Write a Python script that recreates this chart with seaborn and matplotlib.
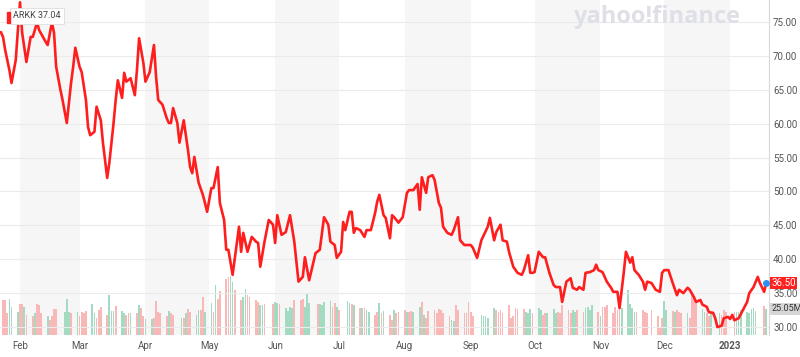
import matplotlib
matplotlib.use("Agg")
import matplotlib.pyplot as plt
from matplotlib.patches import Rectangle
import seaborn as sns
import pandas as pd

# ARKK daily close
price_dates = [
    "2022-01-23", "2022-01-24", "2022-01-25", "2022-01-27", "2022-01-28", "2022-01-30", "2022-01-31",
    "2022-02-01", "2022-02-02", "2022-02-04", "2022-02-06", "2022-02-07", "2022-02-09", "2022-02-10",
    "2022-02-13", "2022-02-14", "2022-02-16", "2022-02-17", "2022-02-18", "2022-02-20", "2022-02-21",
    "2022-02-23", "2022-02-25", "2022-02-26", "2022-02-27",
    "2022-03-01", "2022-03-02", "2022-03-04", "2022-03-05", "2022-03-06", "2022-03-08", "2022-03-09",
    "2022-03-11", "2022-03-12", "2022-03-14", "2022-03-15", "2022-03-17", "2022-03-18", "2022-03-19",
    "2022-03-21", "2022-03-22", "2022-03-23", "2022-03-25", "2022-03-27", "2022-03-28", "2022-03-29",
    "2022-03-31",
    "2022-04-01", "2022-04-03", "2022-04-05", "2022-04-06", "2022-04-07", "2022-04-09", "2022-04-11",
    "2022-04-12", "2022-04-13", "2022-04-14", "2022-04-16", "2022-04-17", "2022-04-19", "2022-04-21",
    "2022-04-22", "2022-04-23", "2022-04-24", "2022-04-26", "2022-04-28", "2022-04-29", "2022-04-30",
    "2022-05-02", "2022-05-03", "2022-05-05", "2022-05-06", "2022-05-08", "2022-05-09", "2022-05-10",
    "2022-05-12", "2022-05-15", "2022-05-16", "2022-05-17", "2022-05-19", "2022-05-21", "2022-05-23",
    "2022-05-24", "2022-05-25", "2022-05-27", "2022-05-29", "2022-05-31",
    "2022-06-01", "2022-06-02", "2022-06-04", "2022-06-06", "2022-06-08", "2022-06-10", "2022-06-12",
    "2022-06-14", "2022-06-15", "2022-06-17", "2022-06-19", "2022-06-20", "2022-06-22", "2022-06-24",
    "2022-06-26", "2022-06-27", "2022-06-29", "2022-06-30",
    "2022-07-02", "2022-07-03", "2022-07-04", "2022-07-06", "2022-07-07", "2022-07-08", "2022-07-09",
    "2022-07-11", "2022-07-13", "2022-07-14", "2022-07-16", "2022-07-18", "2022-07-19", "2022-07-20",
    "2022-07-22", "2022-07-23", "2022-07-25", "2022-07-26", "2022-07-27", "2022-07-29", "2022-07-31",
    "2022-08-02", "2022-08-03", "2022-08-05", "2022-08-07", "2022-08-08", "2022-08-09", "2022-08-11",
    "2022-08-12", "2022-08-14", "2022-08-15", "2022-08-17", "2022-08-18", "2022-08-19", "2022-08-21",
    "2022-08-23", "2022-08-24", "2022-08-26", "2022-08-27", "2022-08-29",
    "2022-09-01", "2022-09-02", "2022-09-04", "2022-09-06", "2022-09-09", "2022-09-10", "2022-09-12",
    "2022-09-13", "2022-09-15", "2022-09-16", "2022-09-18", "2022-09-19", "2022-09-21", "2022-09-23",
    "2022-09-25", "2022-09-26", "2022-09-28", "2022-09-29", "2022-09-30",
    "2022-10-01", "2022-10-03", "2022-10-05", "2022-10-06", "2022-10-08", "2022-10-10", "2022-10-11",
    "2022-10-13", "2022-10-14", "2022-10-16", "2022-10-18", "2022-10-19", "2022-10-21", "2022-10-22",
    "2022-10-24", "2022-10-25", "2022-10-27", "2022-10-29", "2022-10-30", "2022-10-31",
    "2022-11-02", "2022-11-04", "2022-11-06", "2022-11-07", "2022-11-09", "2022-11-10", "2022-11-12",
    "2022-11-13", "2022-11-15", "2022-11-16", "2022-11-17", "2022-11-19", "2022-11-21", "2022-11-22",
    "2022-11-23", "2022-11-25", "2022-11-27", "2022-11-29", "2022-11-30",
    "2022-12-01", "2022-12-03", "2022-12-05", "2022-12-07", "2022-12-08", "2022-12-10", "2022-12-12",
    "2022-12-13", "2022-12-15", "2022-12-16", "2022-12-18", "2022-12-19", "2022-12-21", "2022-12-22",
    "2022-12-24", "2022-12-25", "2022-12-26", "2022-12-28", "2022-12-29", "2022-12-31",
    "2023-01-01", "2023-01-02", "2023-01-03", "2023-01-05", "2023-01-07", "2023-01-09", "2023-01-10",
    "2023-01-12", "2023-01-14", "2023-01-15", "2023-01-17", "2023-01-18",
]
price_close = [
    73.5, 72.8, 70.9, 67.9, 66.0, 69.4, 73.8,
    77.9, 73.4, 69.1, 72.8, 72.8, 74.9, 73.8,
    72.1, 71.6, 74.9, 73.4, 68.4, 65.0, 63.5,
    60.1, 66.0, 68.4, 71.2,
    68.4, 67.6, 63.5, 59.5, 58.3, 58.8, 62.5,
    60.5, 57.2, 52.0, 54.2, 60.1, 63.5, 66.4,
    63.8, 67.5, 66.2, 66.7, 64.2, 67.9, 72.6,
    69.0,
    66.2, 67.6, 71.6, 66.9, 63.5, 62.8, 60.8,
    60.1, 60.1, 62.3, 60.1, 57.2, 60.5, 56.1,
    53.6, 52.7, 55.1, 51.3, 49.5, 48.3, 47.0,
    50.5, 50.5, 53.6, 48.3, 45.8, 41.4, 41.4,
    37.7, 44.8, 41.1, 43.9, 41.1, 43.3, 42.6,
    42.4, 38.9, 42.6, 45.8, 45.1,
    42.4, 46.5, 43.6, 44.0, 46.5, 42.6, 36.7,
    37.4, 40.3, 36.9, 39.6, 40.9, 41.4, 46.2,
    45.1, 42.6, 42.1, 40.2,
    41.1, 45.5, 44.3, 47.0, 47.0, 43.9, 44.6,
    44.3, 43.3, 44.3, 44.3, 46.8, 48.5, 49.5,
    46.5, 46.1, 43.1, 46.5, 46.2, 45.4, 46.2,
    49.8, 50.2, 50.2, 51.1, 47.3, 52.1, 49.8,
    52.1, 52.4, 51.7, 48.3, 47.6, 44.8, 43.9,
    43.6, 44.3, 46.2, 42.8, 42.1,
    42.1, 41.7, 40.2, 42.8, 44.8, 46.1, 42.8,
    44.0, 45.1, 42.8, 42.6, 41.1, 38.9, 38.0,
    37.7, 38.4, 40.6, 38.0, 38.0,
    38.1, 41.1, 40.3, 40.3, 38.0, 36.2, 35.9,
    35.9, 33.7, 36.7, 37.2, 35.8, 35.5, 35.9,
    35.5, 38.0, 38.1, 38.4, 39.2, 38.4,
    38.1, 36.7, 35.8, 35.2, 35.2, 32.8, 38.1,
    41.1, 39.5, 40.3, 38.4, 37.7, 36.7, 35.5,
    36.7, 36.5, 35.5, 35.2, 38.0,
    38.4, 38.4, 36.5, 34.7, 35.5, 35.0, 35.8,
    35.5, 34.4, 33.7, 34.0, 33.3, 33.0, 32.2,
    32.1, 31.3, 30.0, 30.2, 31.3, 31.5,
    31.2, 31.8, 31.0, 31.3, 32.5, 33.7, 35.0,
    35.9, 37.4, 36.5, 35.2, 36.5,
]

# daily volume in millions, per month, with u = up day / d = down day
vol_jan22 = [62, 34, 34, 21, 35, 27, 22]
dir_jan22 = "uddd uuu"
vol_feb = [30, 30, 27, 19, 18, 21, 30, 29, 21, 18, 14, 18, 25, 25, 22, 35, 22, 21, 22]
dir_feb = "ddudd udddu ddddu uudu"
vol_mar = [18, 22, 21, 23, 30, 21, 16, 24, 27, 19, 38, 23, 23, 28, 23, 21, 19, 21, 21, 21, 29, 26, 18]
dir_mar = "ddddu udddd uuudu uddud udd"
vol_apr = [15, 15, 16, 33, 22, 21, 18, 23, 21, 19, 16, 16, 21, 25, 22, 19, 24, 24, 37, 22]
dir_apr = "uuddd ddudd ududd uuddu"
vol_may = [31, 22, 48, 35, 42, 54, 56, 57, 51, 43, 34, 37, 44, 38, 37, 34, 32, 29, 29, 30, 30]
dir_may = "ududd dduud duudd dduud d"
vol_jun = [32, 31, 30, 26, 23, 27, 26, 34, 34, 35, 27, 40, 31, 30, 30, 29, 32, 33, 27, 31, 27]
dir_jun = "uuduu uuddd uuudu uuudd u"
vol_jul = [24, 33, 31, 30, 29, 26, 26, 26, 24, 22, 19, 22, 31, 21, 23, 19, 14, 24, 21, 22]
dir_jul = "duudu duduu ddudu ddudd"
vol_aug = [24, 22, 22, 23, 22, 27, 32, 19, 16, 23, 24, 21, 25, 24, 21, 18, 14, 13, 29, 24, 21, 21, 32]
dir_aug = "duddu ududd ddddd duudd ddd"
vol_sep = [22, 18, 19, 18, 18, 16, 26, 24, 22, 24, 21, 29, 16, 18, 26, 25, 25, 22, 21, 25, 21]
dir_sep = "dduuu uuddd ddddd dduuu d"
vol_oct = [26, 24, 19, 21, 21, 25, 21, 22, 21, 29, 24, 21, 24, 22, 24, 22, 26, 27, 24, 29, 22]
dir_oct = "uuddu uuddd dduud duuuu d"
vol_nov = [18, 27, 27, 29, 21, 27, 24, 34, 26, 43, 30, 26, 22, 22, 24, 22, 21, 24, 18, 8, 16]
dir_nov = "udddd ddduu uuudd ddddd d"
vol_dec = [33, 24, 23, 22, 24, 22, 21, 21, 16, 41, 37, 32, 25, 22, 21, 18, 22, 21, 19, 24, 22]
dir_dec = "uudud ddudd dduud duudd d"
vol_jan23 = [22, 22, 22, 24, 22, 21, 25, 26, 23, 28, 25]
dir_jan23 = "duuuu uuuud u"

market_holidays = ["2022-02-21", "2022-04-15", "2022-05-30", "2022-06-20", "2022-07-04",
                   "2022-09-05", "2022-11-24", "2022-12-26", "2023-01-02", "2023-01-16"]

month_ticks = ["2022-02-01", "2022-03-01", "2022-04-01", "2022-05-01", "2022-06-01", "2022-07-01",
               "2022-08-01", "2022-09-01", "2022-10-01", "2022-11-01", "2022-12-01", "2023-01-01"]
month_labels = ["Feb", "Mar", "Apr", "May", "Jun", "Jul", "Aug", "Sep", "Oct", "Nov", "Dec", "2023"]
price_ticks = [30, 35, 40, 45, 50, 55, 60, 65, 70, 75]

last_price = 36.50
last_volume = 25.05
header_text = "ARKK 37.04"

# ---- build frames
price = pd.DataFrame({"date": pd.to_datetime(price_dates), "close": price_close})

volumes = (vol_jan22 + vol_feb + vol_mar + vol_apr + vol_may + vol_jun + vol_jul + vol_aug
           + vol_sep + vol_oct + vol_nov + vol_dec + vol_jan23)
dirs = (dir_jan22 + dir_feb + dir_mar + dir_apr + dir_may + dir_jun + dir_jul + dir_aug
        + dir_sep + dir_oct + dir_nov + dir_dec + dir_jan23).replace(" ", "")
vol_dates = pd.bdate_range("2022-01-21", periods=len(volumes), freq="C", holidays=market_holidays)
vol = pd.DataFrame({"date": vol_dates, "volume": volumes, "dir": list(dirs)})

sns.set_style("white")
plt.rcParams["font.family"] = ["Roboto", "DejaVu Sans"]

fig = plt.figure(figsize=(8, 3.57), dpi=100)
ax = fig.add_axes([0, 22 / 357, 769 / 800, 335 / 357])
ax2 = ax.twinx()

x_start = pd.Timestamp("2022-01-22 14:00")
x_end = pd.Timestamp("2023-01-19 07:00")

# alternating month shading
for i in range(0, len(month_ticks), 2):
    ax.axvspan(pd.Timestamp(month_ticks[i]), pd.Timestamp(month_ticks[i + 1]),
               color="#f6f6f6", zorder=0, lw=0)

# volume bars
up_color, down_color = "#a3dbc2", "#f8b8b8"
colors = [up_color if d == "u" else down_color for d in vol["dir"]]
ax.bar(vol["date"], vol["volume"], width=0.8, color=colors, zorder=2, lw=0)
ax.set_ylim(0, 322)
ax.set_yticks([])

# price line
sns.lineplot(data=price, x="date", y="close", ax=ax2, color="#ff1e1e", linewidth=1.9,
             zorder=5, estimator=None)
ax2.plot(price["date"].iloc[-1], price["close"].iloc[-1], "o", color="#2f8ff0",
         markersize=4, zorder=6)
ax2.set_ylim(28.83, 78.24)
ax2.set_yticks(price_ticks)
ax2.set_yticklabels([f"{v:.2f}" for v in price_ticks])
ax2.tick_params(axis="y", length=0, pad=3, labelsize=7, labelcolor="#555555")
for v in price_ticks:
    ax2.axhline(v, color="#ebebeb", lw=0.8, zorder=1)
ax2.set_xlabel("")
ax2.set_ylabel("")

ax.set_xlim(x_start, x_end)
ax.set_xticks(pd.to_datetime(month_ticks))
ax.set_xticklabels(month_labels)
ax.tick_params(axis="x", length=0, pad=4, labelsize=7, labelcolor="#555555")
ax.get_xticklabels()[-1].set_fontweight("bold")
ax.set_xlabel("")

for a in (ax, ax2):
    for side in ("top", "left", "bottom", "right"):
        a.spines[side].set_visible(False)
ax2.spines["right"].set_visible(True)
ax2.spines["right"].set_color("#d8d8d8")
ax2.spines["right"].set_linewidth(0.8)

# last price / volume tags
ax2.annotate(f"{last_price:.2f}", xy=(1.0, last_price), xycoords=("axes fraction", "data"),
             xytext=(1.5, 0), textcoords="offset points", ha="left", va="center",
             fontsize=7, color="white",
             bbox=dict(boxstyle="square,pad=0.15", fc="#ff2020", ec="none"))
ax.annotate(f"{last_volume:.2f}M", xy=(1.0, last_volume), xycoords=("axes fraction", "data"),
            xytext=(1.5, 0), textcoords="offset points", ha="left", va="center",
            fontsize=6.5, color="#333333",
            bbox=dict(boxstyle="square,pad=0.15", fc="#d6d6d6", ec="none"))

# header tag
ax2.text(13 / 769, 1 - 16 / 335, header_text, transform=ax2.transAxes, fontsize=6.5,
         color="#444444", va="center", ha="left", zorder=10,
         bbox=dict(boxstyle="square,pad=0.35", fc="white", ec="#dddddd", lw=0.6))
ax2.add_patch(Rectangle((7 / 769, 1 - 23 / 335), 2.5 / 769, 11 / 335, transform=ax2.transAxes,
                        color="#ff2020", zorder=11, clip_on=False))

# watermark
fig.text(657 / 800, 1 - 17 / 357, "yahoo!finance", fontsize=17, fontweight="bold",
         color="#dfe0e7", ha="center", va="center", family=["Open Sans", "DejaVu Sans"])

fig.savefig("out.png", dpi=100)
